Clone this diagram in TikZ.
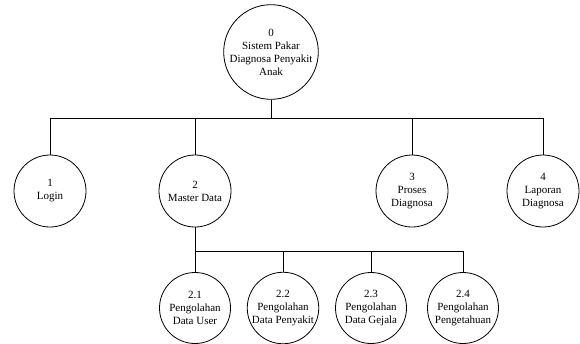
\documentclass[tikz,border=0pt]{standalone}
\usepackage{fontspec}
\setmainfont{Liberation Serif}

\begin{document}
\begin{tikzpicture}[x=1pt, y=-1pt, line width=0.8pt,
  proc/.style = {circle, draw=black, minimum size=#1, inner sep=0pt, align=center, font=\fontsize{11}{13}\selectfont},
  proc/.default = 72pt]

\useasboundingbox (0,0) rectangle (580,343);

% Nodes
\node[proc=88pt] (p0) at (271,52) {0\\Sistem Pakar\\Diagnosa Penyakit\\Anak};

\node[proc] (p1) at (50,191) {1\\Login};
\node[proc] (p2) at (195,191) {2\\Master Data};
\node[proc] (p3) at (412,191) {3\\Proses\\Diagnosa};
\node[proc] (p4) at (543,191) {4\\Laporan\\Diagnosa};

\node[proc=71pt] (p21) at (195,308) {2.1\\Pengolahan\\Data User};
\node[proc=71pt] (p22) at (283,308) {2.2\\Pengolahan\\Data Penyakit};
\node[proc=71pt] (p23) at (371,308) {2.3\\Pengolahan\\Data Gejala};
\node[proc=71pt] (p24) at (463,308) {2.4\\Pengolahan\\Pengetahuan};

% Bars
\coordinate (bar1) at (0,118);
\coordinate (bar2) at (0,251);

% Lines
\draw (p0.south) -- (p0.south |- bar1);
\draw (p1.north) |- (p4.north |- bar1) -- (p4.north);
\draw (p2.north) -- (p2.north |- bar1);
\draw (p3.north) -- (p3.north |- bar1);

\draw (p2.south) -- (p21.north);
\draw (p21.north |- bar2) -- (p24.north |- bar2) -- (p24.north);
\draw (p22.north) -- (p22.north |- bar2);
\draw (p23.north) -- (p23.north |- bar2);

\end{tikzpicture}
\end{document}
